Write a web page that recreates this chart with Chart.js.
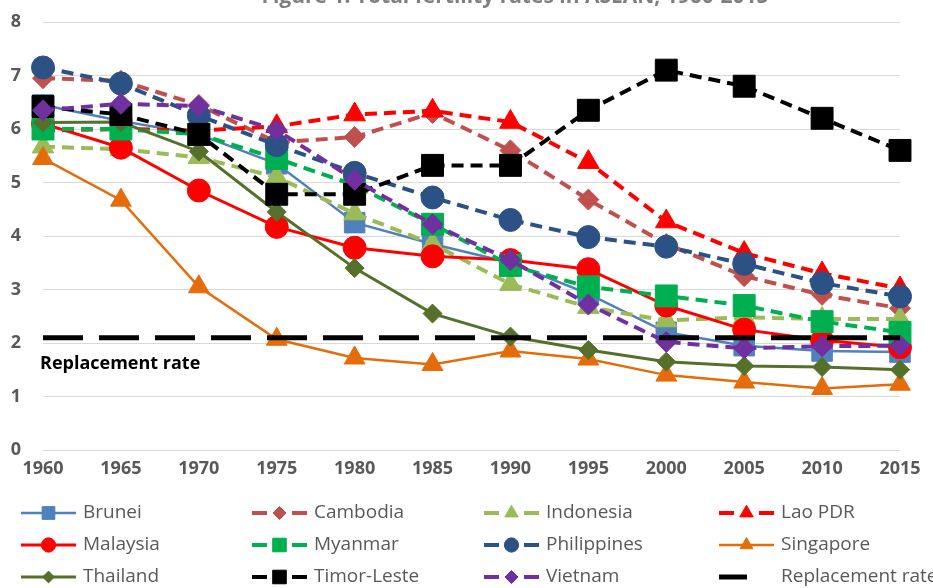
<!DOCTYPE html>
<html>
<head>
<meta charset="utf-8">
<script src="https://cdn.jsdelivr.net/npm/chart.js@4.4.1/dist/chart.umd.min.js"></script>
<style>
  body { margin: 0; background: #fff; }
</style>
</head>
<body>
<canvas id="myChart" width="933" height="588"></canvas>
<script>
const years = ['1960', '1965', '1970', '1975', '1980', '1985', '1990', '1995', '2000', '2005', '2010', '2015'];
const yTicks = [0, 1, 2, 3, 4, 5, 6, 7, 8];

const brunei      = [6.45, 6.15, 5.90, 5.35, 4.25, 3.85, 3.50, 2.92, 2.20, 1.95, 1.85, 1.83];
const cambodia    = [6.95, 6.90, 6.45, 5.75, 5.85, 6.30, 5.60, 4.68, 3.85, 3.25, 2.90, 2.65];
const indonesia   = [5.67, 5.62, 5.47, 5.10, 4.42, 3.85, 3.10, 2.67, 2.42, 2.48, 2.45, 2.45];
const laoPdr      = [5.97, 6.00, 5.97, 6.05, 6.27, 6.34, 6.13, 5.38, 4.27, 3.68, 3.30, 3.02];
const malaysia    = [6.10, 5.65, 4.85, 4.17, 3.78, 3.62, 3.55, 3.38, 2.70, 2.25, 2.05, 1.92];
const myanmar     = [6.00, 6.00, 5.90, 5.45, 4.95, 4.22, 3.45, 3.05, 2.88, 2.70, 2.40, 2.20];
const philippines = [7.15, 6.85, 6.25, 5.70, 5.18, 4.72, 4.30, 3.98, 3.80, 3.48, 3.12, 2.87];
const singapore   = [5.45, 4.67, 3.05, 2.07, 1.72, 1.60, 1.85, 1.70, 1.40, 1.27, 1.15, 1.23];
const thailand    = [6.12, 6.13, 5.58, 4.45, 3.40, 2.55, 2.12, 1.87, 1.65, 1.57, 1.55, 1.50];
const timorLeste  = [6.42, 6.27, 5.90, 4.78, 4.78, 5.32, 5.32, 6.35, 7.10, 6.80, 6.20, 5.60];
const vietnam     = [6.35, 6.47, 6.43, 5.98, 5.05, 4.22, 3.55, 2.72, 2.02, 1.90, 1.94, 1.95];
const replacement = [2.1, 2.1, 2.1, 2.1, 2.1, 2.1, 2.1, 2.1, 2.1, 2.1, 2.1, 2.1];

const FONT = "'Open Sans', 'DejaVu Sans', sans-serif";
const GREY = '#595959';

function series(label, data, color, dashed, style, radius, width) {
  return {
    label: label,
    data: data,
    borderColor: color,
    backgroundColor: color,
    borderWidth: width,
    borderDash: dashed ? [12, 7] : [],
    pointStyle: style,
    pointRadius: radius,
    pointHoverRadius: radius,
    pointBorderWidth: 1,
    pointBackgroundColor: color,
    pointBorderColor: color,
    dashed: dashed,
    tension: 0
  };
}

const datasets = [
  series('Brunei', brunei, '#4F81BD', false, 'rect', 14.5, 2.5),
  series('Cambodia', cambodia, '#C0504D', true, 'rectRot', 10.5, 4),
  series('Indonesia', indonesia, '#9BBB59', true, 'triangle', 12.5, 4),
  series('Lao PDR', laoPdr, '#FF0000', true, 'triangle', 12.5, 4),
  series('Malaysia', malaysia, '#FF0000', false, 'circle', 11.5, 3),
  series('Myanmar', myanmar, '#00B050', true, 'rect', 15.5, 4),
  series('Philippines', philippines, '#2C5285', true, 'circle', 11.5, 4),
  series('Singapore', singapore, '#E46C0A', false, 'triangle', 12, 2.5),
  series('Thailand', thailand, '#54702A', false, 'rectRot', 9.5, 3),
  series('Timor-Leste', timorLeste, '#000000', true, 'rect', 15.5, 4),
  series('Vietnam', vietnam, '#7030A0', true, 'rectRot', 10.5, 4),
  {
    label: 'Replacement rate',
    data: replacement,
    borderColor: '#000000',
    backgroundColor: '#000000',
    borderWidth: 5,
    borderDash: [40, 16],
    pointRadius: 0,
    pointHoverRadius: 0,
    replacement: true
  }
];
// later series sit on top, as in the original
datasets.forEach((d, i) => { d.order = datasets.length - i; });

const extras = {
  id: 'extras',
  afterDraw(chart) {
    const ctx = chart.ctx;
    ctx.save();

    // cut-off title at the very top
    ctx.fillStyle = '#7f7f7f';
    ctx.font = 'bold 21px ' + FONT;
    ctx.textAlign = 'center';
    ctx.textBaseline = 'alphabetic';
    ctx.fillText('Figure 1. Total fertility rates in ASEAN, 1960-2015', 515, 3);

    // label for the replacement line
    ctx.fillStyle = '#000000';
    ctx.font = 'bold 18px ' + FONT;
    ctx.textAlign = 'left';
    ctx.textBaseline = 'middle';
    ctx.fillText('Replacement rate', 40, 364);

    // legend
    const cols = [21, 252, 484, 719];
    const rows = [513, 545, 577];
    chart.data.datasets.forEach((ds, i) => {
      const x0 = cols[i % 4];
      const y = rows[Math.floor(i / 4)];
      ctx.strokeStyle = ds.borderColor;
      ctx.setLineDash([]);
      ctx.lineCap = 'butt';
      ctx.beginPath();
      if (ds.replacement) {
        ctx.lineWidth = 5;
        ctx.moveTo(x0, y);
        ctx.lineTo(x0 + 28, y);
      } else if (ds.dashed) {
        ctx.lineWidth = 4;
        ctx.moveTo(x0, y); ctx.lineTo(x0 + 15, y);
        ctx.moveTo(x0 + 40, y); ctx.lineTo(x0 + 55, y);
      } else {
        ctx.lineWidth = ds.borderWidth;
        ctx.moveTo(x0, y);
        ctx.lineTo(x0 + 55, y);
      }
      ctx.stroke();
      if (!ds.replacement) {
        ctx.fillStyle = ds.pointBackgroundColor;
        ctx.lineWidth = 1;
        Chart.helpers.drawPoint(ctx, {
          pointStyle: ds.pointStyle,
          radius: ds.pointRadius * 0.62,
          rotation: 0,
          borderWidth: 1
        }, x0 + 27.5, y);
      }
      ctx.fillStyle = GREY;
      ctx.font = '19px ' + FONT;
      ctx.textAlign = 'left';
      ctx.textBaseline = 'middle';
      ctx.fillText(ds.label, x0 + 62, y);
    });
    ctx.restore();
  }
};

new Chart(document.getElementById('myChart'), {
  type: 'line',
  data: { labels: years, datasets: datasets },
  options: {
    responsive: false,
    animation: false,
    layout: { padding: { top: 22, right: 33, left: 0, bottom: 0 } },
    plugins: {
      legend: { display: false },
      tooltip: { enabled: false }
    },
    scales: {
      x: {
        grid: { display: false, drawTicks: false },
        border: { display: false },
        ticks: { color: GREY, font: { family: FONT, size: 18, weight: 'bold' }, padding: 8, maxRotation: 0 },
        afterFit(scale) { scale.height = 138; }
      },
      y: {
        min: yTicks[0],
        max: yTicks[yTicks.length - 1],
        grid: { color: '#D9D9D9', lineWidth: 1, drawTicks: false },
        border: { display: false },
        afterBuildTicks(scale) { scale.ticks = yTicks.map(v => ({ value: v })); },
        ticks: { color: GREY, font: { family: FONT, size: 18, weight: 'bold' }, padding: 22 },
        afterFit(scale) {
          scale.width = 43;
          scale.paddingTop = 0;
          scale.paddingBottom = 0;
        }
      }
    }
  },
  plugins: [extras]
});
</script>
</body>
</html>
